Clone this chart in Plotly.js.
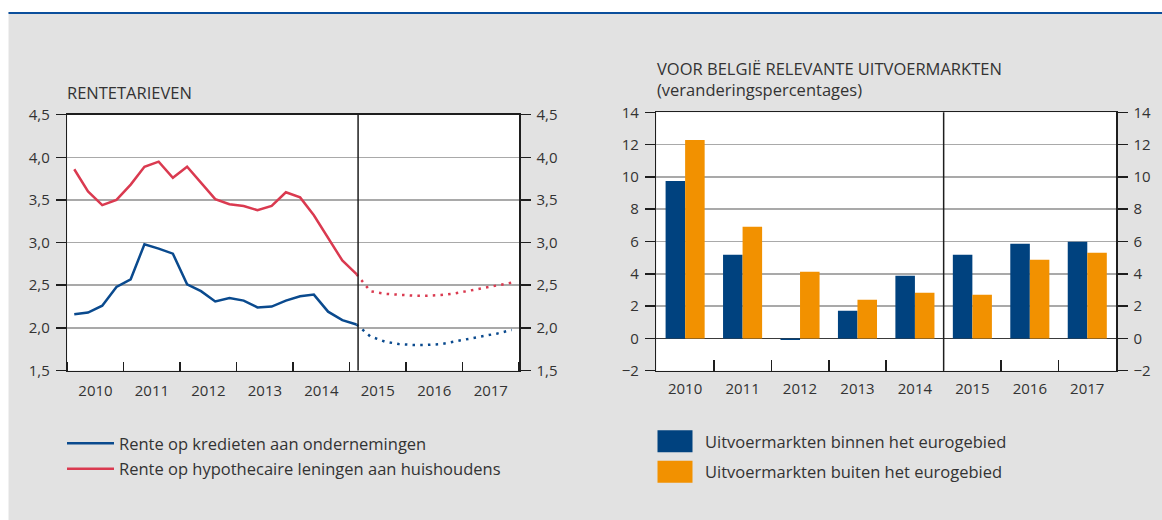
<!DOCTYPE html>
<html>
<head>
<meta charset="utf-8">
<script src="https://cdn.plot.ly/plotly-3.0.1.min.js"></script>
<style>
html,body{margin:0;padding:0;background:#fff;}
#chart{width:1162px;height:520px;}
</style>
</head>
<body>
<div id="chart"></div>
<script>
// ---------- Data: left panel (interest rates, quarterly) ----------
const actualDates = ['2010-02-15','2010-05-15','2010-08-15','2010-11-15',
  '2011-02-15','2011-05-15','2011-08-15','2011-11-15',
  '2012-02-15','2012-05-15','2012-08-15','2012-11-15',
  '2013-02-15','2013-05-15','2013-08-15','2013-11-15',
  '2014-02-15','2014-05-15','2014-08-15','2014-11-15',
  '2015-02-15'];
const businessRate = [2.16,2.18,2.26,2.48,2.57,2.98,2.93,2.87,2.51,2.43,2.31,2.35,2.32,2.24,2.25,2.32,2.37,2.39,2.19,2.09,2.04];
const mortgageRate = [3.86,3.60,3.44,3.50,3.68,3.89,3.95,3.76,3.89,3.70,3.51,3.45,3.43,3.38,3.43,3.59,3.53,3.32,3.05,2.79,2.63];
const forecastDates = ['2015-02-15','2015-05-15','2015-08-15','2015-11-15',
  '2016-02-15','2016-05-15','2016-08-15','2016-11-15',
  '2017-02-15','2017-05-15','2017-08-15','2017-11-15'];
const businessForecast = [2.04,1.90,1.84,1.81,1.80,1.80,1.81,1.84,1.87,1.90,1.935,1.975];
const mortgageForecast = [2.63,2.43,2.40,2.385,2.378,2.376,2.385,2.405,2.435,2.468,2.50,2.53];
const lineNames = ['Rente op kredieten aan ondernemingen','Rente op hypothecaire leningen aan huishoudens'];
const rateTicks = [1.5,2.0,2.5,3.0,3.5,4.0,4.5];

// ---------- Data: right panel (export markets, % change) ----------
const years = [2010,2011,2012,2013,2014,2015,2016,2017];
const insideEuro = [9.75,5.18,-0.1,1.71,3.88,5.18,5.86,5.98];
const outsideEuro = [12.29,6.91,4.12,2.39,2.82,2.70,4.87,5.30];
const barNames = ['Uitvoermarkten binnen het eurogebied','Uitvoermarkten buiten het eurogebied'];
const pctTicks = [-2,0,2,4,6,8,10,12,14];

// ---------- Titles ----------
const leftTitle = 'RENTETARIEVEN';
const rightTitle = ['VOOR BELGIË RELEVANTE UITVOERMARKTEN', '(veranderingspercentages)'];

// projection boundaries
const leftProjectionStart = '2015-02-25';
const rightProjectionStart = 2014.5;

// ---------- Style ----------
const FONT = '"Open Sans", "Noto Sans", sans-serif';
const TXT = '#333333';
const AX = '#1e1e1e';
const GRID = '#a9a9a9';
const BLUE_LINE = '#0a4a8e';
const RED_LINE = '#da3a50';
const BLUE_BAR = '#00427f';
const ORANGE_BAR = '#f29100';
const BG = '#e2e2e2';

const W = 1162, H = 520;
const px = v => v / W;
const py = v => 1 - v / H;

const traces = [
  {x: actualDates, y: businessRate, type: 'scatter', mode: 'lines', name: lineNames[0],
   line: {color: BLUE_LINE, width: 2.5}, xaxis: 'x', yaxis: 'y', legend: 'legend', legendgroup: 'a'},
  {x: actualDates, y: mortgageRate, type: 'scatter', mode: 'lines', name: lineNames[1],
   line: {color: RED_LINE, width: 2.5}, xaxis: 'x', yaxis: 'y', legend: 'legend', legendgroup: 'b'},
  {x: forecastDates, y: businessForecast, type: 'scatter', mode: 'lines', name: lineNames[0] + ' (projectie)',
   line: {color: BLUE_LINE, width: 2.5, dash: '2.5px,5.2px'}, xaxis: 'x', yaxis: 'y2', showlegend: false},
  {x: forecastDates, y: mortgageForecast, type: 'scatter', mode: 'lines', name: lineNames[1] + ' (projectie)',
   line: {color: RED_LINE, width: 2.5, dash: '2.5px,5.2px'}, xaxis: 'x', yaxis: 'y2', showlegend: false},
  {x: years, y: insideEuro, type: 'bar', name: barNames[0], marker: {color: BLUE_BAR, line: {width: 0}},
   xaxis: 'x2', yaxis: 'y3', legend: 'legend2', legendgroup: 'c', alignmentgroup: 'exp', offsetgroup: '1'},
  {x: years, y: outsideEuro, type: 'bar', name: barNames[1], marker: {color: ORANGE_BAR, line: {width: 0}},
   xaxis: 'x2', yaxis: 'y4', legend: 'legend2', legendgroup: 'd', alignmentgroup: 'exp', offsetgroup: '2'}
];

const tickFont = {family: FONT, size: 15, color: TXT};
const yCommon = {
  showline: true, linecolor: AX, linewidth: 1.5,
  ticks: 'outside', ticklen: 10, tickwidth: 1.5, tickcolor: AX,
  tickfont: tickFont, ticklabelstandoff: 3, fixedrange: true
};

const layout = {
  width: W, height: H,
  margin: {l: 0, r: 0, t: 0, b: 0},
  paper_bgcolor: BG, plot_bgcolor: '#ffffff',
  separators: ', ',
  font: {family: FONT, color: TXT},
  barmode: 'group', bargap: 0.32, bargroupgap: 0,
  xaxis: {
    type: 'date', domain: [px(67.3), px(519)], anchor: 'y',
    range: ['2010-01-01', '2018-01-01'],
    tick0: '2010-01-01', dtick: 'M12', tickformat: '%Y', ticklabelmode: 'period',
    ticks: 'inside', ticklen: 9, tickwidth: 1.5, tickcolor: AX, ticklabelstandoff: 6,
    showline: true, linecolor: AX, linewidth: 1.5, mirror: true,
    showgrid: false, zeroline: false, tickfont: tickFont, fixedrange: true
  },
  yaxis: Object.assign({}, yCommon, {
    domain: [py(370.5), py(114.7)], anchor: 'x', range: [1.5, 4.5],
    tickvals: rateTicks, tickformat: '.1f', mirror: true,
    showgrid: true, gridcolor: GRID, gridwidth: 1.5, zeroline: false
  }),
  yaxis2: Object.assign({}, yCommon, {
    domain: [py(370.5), py(114.7)], anchor: 'x', overlaying: 'y', side: 'right', matches: 'y',
    range: [1.5, 4.5], tickvals: rateTicks, tickformat: '.1f', showgrid: false, zeroline: false
  }),
  xaxis2: {
    domain: [px(656.4), px(1116)], anchor: 'y3',
    range: [years[0] - 0.5, years[years.length - 1] + 0.5],
    tickvals: years, ticktext: years.map(String), ticks: '', ticklabelstandoff: 4,
    minor: {tickvals: years.slice(0, -1).map(v => v + 0.5), ticks: 'inside', ticklen: 11,
            tickwidth: 1.5, tickcolor: AX, showgrid: false},
    showline: true, linecolor: AX, linewidth: 1.5, mirror: true,
    showgrid: false, zeroline: false, tickfont: tickFont, fixedrange: true
  },
  yaxis3: Object.assign({}, yCommon, {
    domain: [py(370.7), py(112.3)], anchor: 'x2', range: [-2, 14],
    tickvals: pctTicks, mirror: true,
    showgrid: true, gridcolor: GRID, gridwidth: 1.5,
    zeroline: true, zerolinecolor: '#3a3a3a', zerolinewidth: 1.5
  }),
  yaxis4: Object.assign({}, yCommon, {
    domain: [py(370.7), py(112.3)], anchor: 'x2', overlaying: 'y3', side: 'right', matches: 'y3',
    range: [-2, 14], tickvals: pctTicks, showgrid: false, zeroline: false
  }),
  legend: {
    x: px(62), y: py(426), xanchor: 'left', yanchor: 'top',
    bgcolor: 'rgba(0,0,0,0)', borderwidth: 0, traceorder: 'grouped', tracegroupgap: 1,
    itemwidth: 47, font: {family: FONT, size: 16.5, color: TXT}
  },
  legend2: {
    x: px(645), y: py(424), xanchor: 'left', yanchor: 'top',
    bgcolor: 'rgba(0,0,0,0)', borderwidth: 0, traceorder: 'grouped', tracegroupgap: 6,
    itemwidth: 50, font: {family: FONT, size: 16.5, color: TXT}
  },
  annotations: [
    {text: leftTitle, xref: 'paper', yref: 'paper', x: px(65), y: py(92), xanchor: 'left', yanchor: 'middle',
     showarrow: false, font: {family: FONT, size: 16.5, color: TXT}},
    {text: rightTitle.join('<br>'), xref: 'paper', yref: 'paper', x: px(655), y: py(78.5),
     xanchor: 'left', yanchor: 'middle', align: 'left',
     showarrow: false, font: {family: FONT, size: 16.5, color: TXT}}
  ],
  shapes: [
    {type: 'rect', xref: 'paper', yref: 'paper', x0: 0, x1: 1, y0: py(12), y1: 1,
     fillcolor: '#ffffff', line: {width: 0}, layer: 'below'},
    {type: 'rect', xref: 'paper', yref: 'paper', x0: 0, x1: px(8.5), y0: 0, y1: 1,
     fillcolor: '#ffffff', line: {width: 0}, layer: 'below'},
    {type: 'line', xref: 'paper', yref: 'paper', x0: px(8.5), x1: 1, y0: py(13), y1: py(13),
     line: {color: '#0b4f9c', width: 2}},
    {type: 'line', xref: 'x', yref: 'y domain', x0: leftProjectionStart, x1: leftProjectionStart, y0: 0, y1: 1,
     line: {color: AX, width: 1.5}},
    {type: 'line', xref: 'x2', yref: 'y3 domain', x0: rightProjectionStart, x1: rightProjectionStart, y0: 0, y1: 1,
     line: {color: AX, width: 1.5}}
  ]
};

function fixSwatches() {
  // enlarge bar legend swatches to match the reference's rectangular keys
  document.querySelectorAll('#chart g.legendpoints path').forEach(function (p) {
    const d = (p.getAttribute('d') || '').replace(/\s/g, '');
    if (d.indexOf('V-6') !== -1 || d.indexOf('H-6') !== -1) {
      p.setAttribute('d', 'M17.5,11H-17.5V-11H17.5Z');
    }
  });
}

Plotly.newPlot('chart', traces, layout, {staticPlot: true, displayModeBar: false}).then(function (gd) {
  fixSwatches();
  gd.on('plotly_afterplot', fixSwatches);
  setTimeout(fixSwatches, 0);
  setTimeout(fixSwatches, 200);
});
</script>
</body>
</html>
